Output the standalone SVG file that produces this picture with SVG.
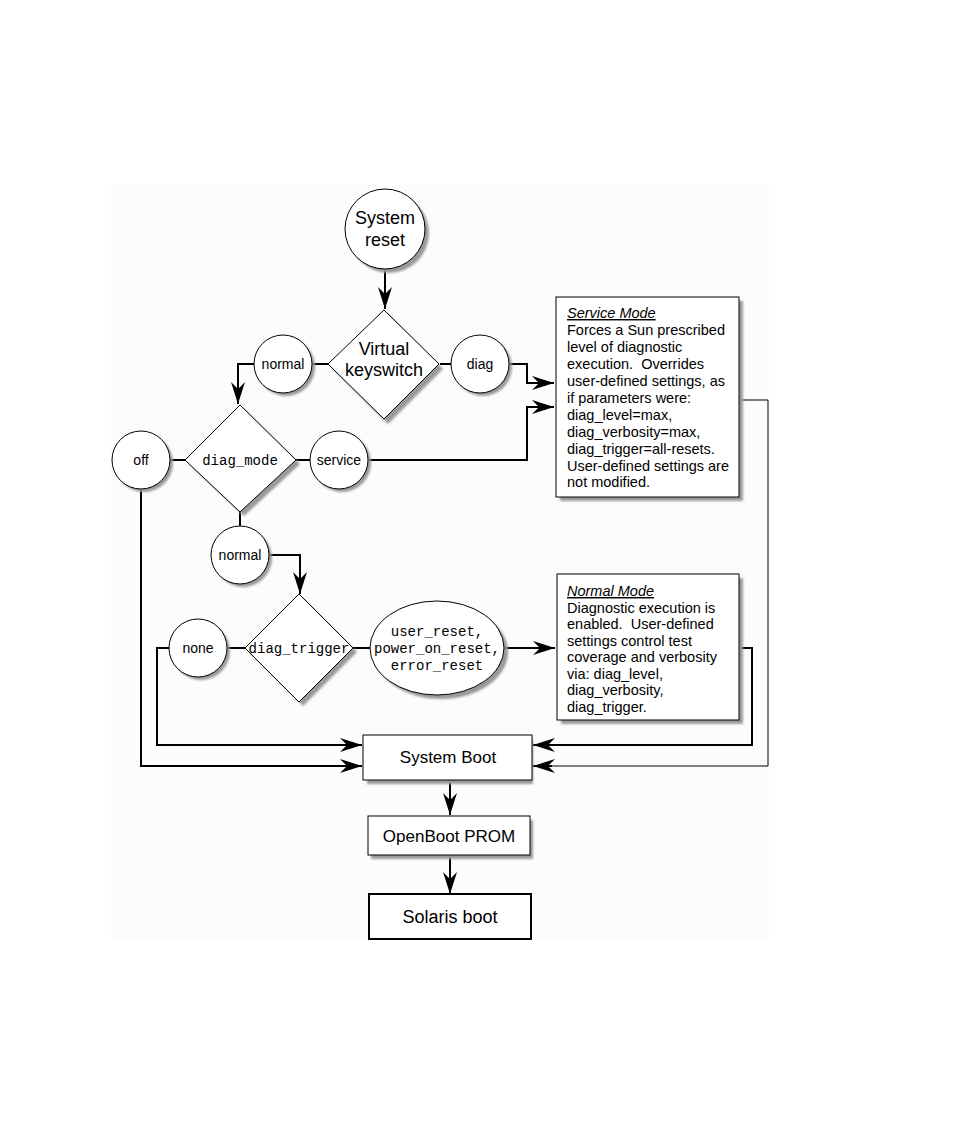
<svg xmlns="http://www.w3.org/2000/svg" width="954" height="1145" viewBox="0 0 954 1145">
<style>
.shape{fill:#fff;stroke:#000;stroke-width:1}
.sh{fill:#9a9a9a;stroke:none}
.t{font-family:"Liberation Sans",Arial,sans-serif;fill:#000;text-anchor:middle}
.m{font-family:"Liberation Mono","Courier New",monospace;fill:#000;text-anchor:middle;font-size:14px}
.bt{font-family:"Liberation Sans",Arial,sans-serif;fill:#000;font-size:14.5px}
.c{fill:none;stroke:#000;stroke-width:2}
.thin{fill:none;stroke:#000;stroke-width:1}
</style>
<defs>
<marker id="ah" viewBox="0 0 22 14" refX="22" refY="7" markerWidth="22" markerHeight="14" markerUnits="userSpaceOnUse" orient="auto">
<path d="M0,0 L22,7 L0,14 L7,7 Z" fill="#000"/>
</marker>
<filter id="blur" x="-20%" y="-20%" width="140%" height="140%"><feGaussianBlur stdDeviation="1.2"/></filter>
</defs>
<rect x="111" y="185" width="658" height="754" fill="#fcfcfc"/>
<g id="connectors">
<path class="c" d="M385,269 V309" marker-end="url(#ah)"/>
<path class="c" d="M328,364 H312"/>
<path class="c" d="M254,364 H238 V404" marker-end="url(#ah)"/>
<path class="c" d="M440,364 H451"/>
<path class="c" d="M509,364 H527 V383 H554" marker-end="url(#ah)"/>
<path class="c" d="M185,460 H170"/>
<path class="c" d="M296,460 H310"/>
<path class="c" d="M369,460 H527 V407 H554" marker-end="url(#ah)"/>
<path class="c" d="M141,489 V766 H362" marker-end="url(#ah)"/>
<path class="c" d="M240,512 V526"/>
<path class="c" d="M269,555 H300 V594" marker-end="url(#ah)"/>
<path class="c" d="M245,648 H227"/>
<path class="c" d="M169,648 H157 V745 H362" marker-end="url(#ah)"/>
<path class="c" d="M353,648 H370"/>
<path class="c" d="M505,648 H555" marker-end="url(#ah)"/>
<path class="c" d="M739,648 H752 V745 H533" marker-end="url(#ah)"/>
<path class="thin" d="M739,400 H768 V766 H545"/>
<path class="c" d="M552,766 H533" marker-end="url(#ah)"/>
<path class="c" d="M450,780 V815" marker-end="url(#ah)"/>
<path class="c" d="M450,855 V894" marker-end="url(#ah)"/>
</g>
<g id="system-reset">
<circle class="sh" cx="389" cy="233" r="40" filter="url(#blur)"/>
<circle class="shape" cx="385" cy="229" r="40"/>
<text class="t" font-size="18" x="385" y="224">System</text>
<text class="t" font-size="18" x="385" y="246">reset</text>
</g>
<g id="virtual-keyswitch">
<path class="sh" d="M388,314 L443,369 L388,424 L333,369 Z" filter="url(#blur)"/>
<path class="shape" d="M384,310 L439,364 L384,419 L328,364 Z"/>
<text class="t" font-size="18" x="384" y="355">Virtual</text>
<text class="t" font-size="18" x="384" y="376">keyswitch</text>
</g>
<g id="normal-1">
<circle class="sh" cx="286" cy="367" r="29" filter="url(#blur)"/>
<circle class="shape" cx="283" cy="364" r="29"/>
<text class="t" font-size="14" x="283" y="369">normal</text>
</g>
<g id="diag">
<circle class="sh" cx="483" cy="367" r="29" filter="url(#blur)"/>
<circle class="shape" cx="480" cy="364" r="29"/>
<text class="t" font-size="14" x="480" y="369">diag</text>
</g>
<g id="service-mode">
<rect class="sh" x="560" y="301" width="183" height="200" filter="url(#blur)"/>
<rect class="shape" x="556" y="297" width="183" height="200"/>
<text class="bt" x="567" y="318" font-style="italic" text-decoration="underline">Service Mode</text>
<text class="bt" x="567" y="335">Forces a Sun prescribed</text>
<text class="bt" x="567" y="352">level of diagnostic</text>
<text class="bt" x="567" y="369" xml:space="preserve">execution.  Overrides</text>
<text class="bt" x="567" y="386">user-defined settings, as</text>
<text class="bt" x="567" y="403">if parameters were:</text>
<text class="bt" x="567" y="420">diag_level=max,</text>
<text class="bt" x="567" y="437">diag_verbosity=max,</text>
<text class="bt" x="567" y="454">diag_trigger=all-resets.</text>
<text class="bt" x="567" y="471">User-defined settings are</text>
<text class="bt" x="567" y="487">not modified.</text>
</g>
<g id="diag-mode">
<path class="sh" d="M244,409 L300,464 L244,516 L189,464 Z" filter="url(#blur)"/>
<path class="shape" d="M240,405 L296,460 L240,512 L185,460 Z"/>
<text class="m" x="240" y="465">diag_mode</text>
</g>
<g id="off">
<circle class="sh" cx="144" cy="463" r="29" filter="url(#blur)"/>
<circle class="shape" cx="141" cy="460" r="29"/>
<text class="t" font-size="14" x="141" y="465">off</text>
</g>
<g id="service">
<circle class="sh" cx="342" cy="463" r="29" filter="url(#blur)"/>
<circle class="shape" cx="339" cy="460" r="29"/>
<text class="t" font-size="14" x="339" y="465">service</text>
</g>
<g id="normal-2">
<circle class="sh" cx="243" cy="558" r="29" filter="url(#blur)"/>
<circle class="shape" cx="240" cy="555" r="29"/>
<text class="t" font-size="14" x="240" y="560">normal</text>
</g>
<g id="diag-trigger">
<path class="sh" d="M303,598 L357,652 L303,706 L249,652 Z" filter="url(#blur)"/>
<path class="shape" d="M299,594 L353,648 L299,702 L245,648 Z"/>
<text class="m" x="299" y="653" font-size="14.5">diag_trigger</text>
</g>
<g id="none">
<circle class="sh" cx="201" cy="651" r="29" filter="url(#blur)"/>
<circle class="shape" cx="198" cy="648" r="29"/>
<text class="t" font-size="14" x="198" y="653">none</text>
</g>
<g id="resets">
<ellipse class="sh" cx="441" cy="652" rx="67" ry="47" filter="url(#blur)"/>
<ellipse class="shape" cx="437" cy="648" rx="67" ry="47"/>
<text class="m" x="437" y="636">user_reset,</text>
<text class="m" x="437" y="653">power_on_reset,</text>
<text class="m" x="437" y="670">error_reset</text>
</g>
<g id="normal-mode">
<rect class="sh" x="561" y="578" width="182" height="146" filter="url(#blur)"/>
<rect class="shape" x="557" y="574" width="182" height="146"/>
<text class="bt" x="567" y="596" font-style="italic" text-decoration="underline">Normal Mode</text>
<text class="bt" x="567" y="612.5">Diagnostic execution is</text>
<text class="bt" x="567" y="629" xml:space="preserve">enabled.  User-defined</text>
<text class="bt" x="567" y="645.5">settings control test</text>
<text class="bt" x="567" y="662">coverage and verbosity</text>
<text class="bt" x="567" y="678.5">via: diag_level,</text>
<text class="bt" x="567" y="695">diag_verbosity,</text>
<text class="bt" x="567" y="711.5">diag_trigger.</text>
</g>
<g id="system-boot">
<rect class="sh" x="367" y="739" width="166" height="45" filter="url(#blur)"/>
<rect class="shape" x="363" y="735" width="169" height="45"/>
<text class="t" font-size="17" x="448" y="763">System Boot</text>
</g>
<g id="openboot-prom">
<rect class="sh" x="371" y="820" width="162" height="39" filter="url(#blur)"/>
<rect class="shape" x="368" y="816" width="162" height="39"/>
<text class="t" font-size="17" x="449" y="842">OpenBoot PROM</text>
</g>
<g id="solaris-boot">
<rect x="369" y="894" width="162" height="45" fill="#fff" stroke="#000" stroke-width="2"/>
<text class="t" font-size="18" x="450" y="923">Solaris boot</text>
</g>
</svg>
